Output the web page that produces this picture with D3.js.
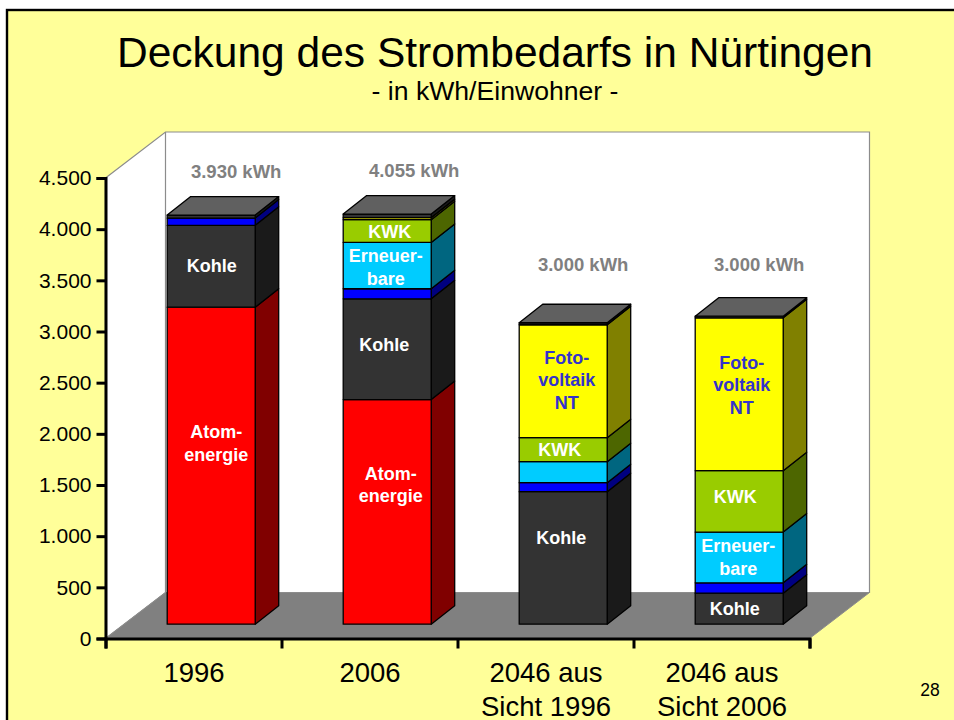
<!DOCTYPE html>
<html><head><meta charset="utf-8">
<style>html,body{margin:0;padding:0;background:#fff}svg{display:block}text{font-family:"Liberation Sans",Arial,sans-serif}</style>
<script src="https://cdn.jsdelivr.net/npm/d3@7/dist/d3.min.js"></script>
</head><body><svg id="c" width="954" height="720"></svg>
<script>
const categories = ["1996", "2006", "2046 aus|Sicht 1996", "2046 aus|Sicht 2006"];
const totals = ["3.930 kWh", "4.055 kWh", "3.000 kWh", "3.000 kWh"];
const atom = [3098, 2195, 0, 0];
const kohle = [800, 985, 1295, 303];
const wasser = [71, 98, 88, 101];
const erneuerbare = [0, 453, 205, 496];
const kwk = [0, 222, 235, 600];
const foto = [0, 20, 1103, 1494];
const sonstige = [29, 35, 20, 16];
const yTicks = [0, 500, 1000, 1500, 2000, 2500, 3000, 3500, 4000, 4500];
const seriesKeys = ["atom", "kohle", "wasser", "erneuerbare", "kwk", "foto", "sonstige"];
const seriesNames = {atom:"Atom-|energie", kohle:"Kohle", erneuerbare:"Erneuer-|bare", kwk:"KWK", foto:"Foto-|voltaik|NT"};

const colors = {atom:"#ff0000", kohle:"#333333", wasser:"#0000ff", erneuerbare:"#00ccff", kwk:"#99cc00", foto:"#ffff00", sonstige:"#333333"};
const sides  = {atom:"#800000", kohle:"#1a1a1a", wasser:"#000080", erneuerbare:"#006680", kwk:"#4d6600", foto:"#808000", sonstige:"#1a1a1a"};
const labelColor = {foto:"#3333cc"};
// which segments carry a label, with nudges relative to segment centre: [bar][series] = [dx, dy]
const nudge = [
 {atom:[5,-22], kohle:[0.5,0]},
 {atom:[3.5,-27], kohle:[-3,-4], erneuerbare:[-1.5,2], kwk:[2.5,1]},
 {foto:[3.5,-1], kwk:[-3.5,0], kohle:[-2,-20]},
 {foto:[2.5,-9], kwk:[-4,-4], erneuerbare:[-1,0], kohle:[-4.5,0]}
];
const totalAnchor = [[25,-37.5],[27,-37.5],[20,-52],[20,-45]];

const svg = d3.select("#c");
const depth = {x:60, y:-46}, barDepth = {x:23.5, y:-18.5}, front = {x:17.7, y:-14.3};
const y = d3.scaleLinear().domain([0,4500]).range([638.5,178]);
const x = d3.scaleBand().domain(d3.range(categories.length)).range([105.5,809.5]);
const xEdges = d3.scaleLinear().domain([0,4]).range([105.5,809.5]);
const pts = a => a.map(p=>p.join(",")).join(" ");

// slide background
svg.append("rect").attr("x",7).attr("y",10).attr("width",960).attr("height",730)
  .attr("fill","#ffff99").attr("stroke","#000").attr("stroke-width",2.4);
svg.append("text").attr("x",495).attr("y",67).attr("text-anchor","middle").attr("font-size",42.5).attr("fill","#000")
  .text("Deckung des Strombedarfs in Nürtingen");
svg.append("text").attr("x",495).attr("y",100).attr("text-anchor","middle").attr("font-size",26.6).attr("fill","#000")
  .text("- in kWh/Einwohner -");
svg.append("text").attr("x",930).attr("y",696).attr("text-anchor","middle").attr("font-size",17.5).attr("fill","#000").text("28");

// walls and floor
const x0=x.range()[0], x1=x.range()[1], yb=y(0), yt=y(4500);
svg.append("polygon").attr("points",pts([[x0,yt],[x0+depth.x,yt+depth.y],[x1+depth.x,yt+depth.y],[x1+depth.x,yb+depth.y],[x0+depth.x,yb+depth.y],[x0,yb]]))
  .attr("fill","#fff").attr("stroke","#8c8c8c").attr("stroke-width",1.2);
svg.append("line").attr("x1",x0+depth.x).attr("x2",x0+depth.x).attr("y1",yt+depth.y).attr("y2",yb+depth.y).attr("stroke","#8c8c8c").attr("stroke-width",1.2);
svg.append("polygon").attr("points",pts([[x0,yb],[x0+depth.x,yb+depth.y],[x1+depth.x,yb+depth.y],[x1,yb]]))
  .attr("fill","#808080").attr("stroke","#8c8c8c").attr("stroke-width",1);

// stacked bars
const rows = categories.map((c,i)=>({i,atom:atom[i],kohle:kohle[i],wasser:wasser[i],erneuerbare:erneuerbare[i],kwk:kwk[i],foto:foto[i],sonstige:sonstige[i]}));
const stack = d3.stack().keys(seriesKeys)(rows);
const bw = x.bandwidth()*0.5;
const lineStyle = s => s.attr("stroke","#000").attr("stroke-width",1.3).attr("stroke-linejoin","round");
const barX = i => x(i)+x.bandwidth()/2-bw/2+front.x;
const labels = [];
rows.forEach((r,i)=>{
  const g = svg.append("g");
  const L = barX(i), R = L+bw;
  stack.forEach(s=>{
    const d = s[i], key = s.key;
    if (d[1]-d[0] <= 0) return;
    const t = y(d[1])+front.y, b = y(d[0])+front.y;
    g.append("polygon").attr("points",pts([[R,b],[R+barDepth.x,b+barDepth.y],[R+barDepth.x,t+barDepth.y],[R,t]]))
      .attr("fill",sides[key]).call(lineStyle);
    g.append("rect").attr("x",L).attr("y",t).attr("width",bw).attr("height",b-t)
      .attr("fill",colors[key]).call(lineStyle);
    if (nudge[i][key]) labels.push({i,key,cx:(L+R)/2,cy:(t+b)/2});
  });
  const top = y(d3.sum(seriesKeys,k=>r[k]))+front.y;
  g.append("polygon").attr("points",pts([[L,top],[L+barDepth.x,top+barDepth.y],[R+barDepth.x,top+barDepth.y],[R,top]]))
    .attr("fill","#606060").call(lineStyle);
  svg.append("text").attr("x",(L+R)/2+totalAnchor[i][0]).attr("y",top+totalAnchor[i][1])
    .attr("text-anchor","middle").attr("font-size",18.5).attr("font-weight","bold").attr("fill","#808080").text(totals[i]);
});

// segment labels
const lh = 22.5;
labels.forEach(l=>{
  const n = nudge[l.i][l.key];
  const lines = seriesNames[l.key].split("|");
  const t = svg.append("text").attr("text-anchor","middle").attr("font-size",18).attr("font-weight","bold")
    .attr("fill",labelColor[l.key]||"#fff");
  lines.forEach((ln,k)=>t.append("tspan").attr("x",l.cx+n[0])
    .attr("y",l.cy+n[1]+(k-(lines.length-1)/2)*lh+6).text(ln));
});

// axes
const fmt = v => d3.format(",")(v).replace(/,/g,".");
const ya = svg.append("g").attr("transform",`translate(${x0},0)`)
  .call(d3.axisLeft(y).tickValues(yTicks).tickFormat(fmt).tickSize(9).tickPadding(5));
ya.selectAll("text").attr("font-size",21).attr("font-family",'"Liberation Sans",Arial,sans-serif').attr("fill","#000");
const xa = svg.append("g").attr("transform",`translate(0,${yb})`)
  .call(d3.axisBottom(xEdges).tickValues(d3.range(5)).tickFormat("").tickSize(10));
[ya,xa].forEach(a=>{a.selectAll("path,line").attr("stroke","#000").attr("stroke-width",3);});

// category labels
categories.forEach((c,i)=>{
  const t = svg.append("text").attr("text-anchor","middle").attr("font-size",27.5).attr("fill","#000");
  c.split("|").forEach((ln,k)=>t.append("tspan").attr("x",x(i)+x.bandwidth()/2+0.5).attr("y",682+k*33.5).text(ln));
});
</script></body></html>
